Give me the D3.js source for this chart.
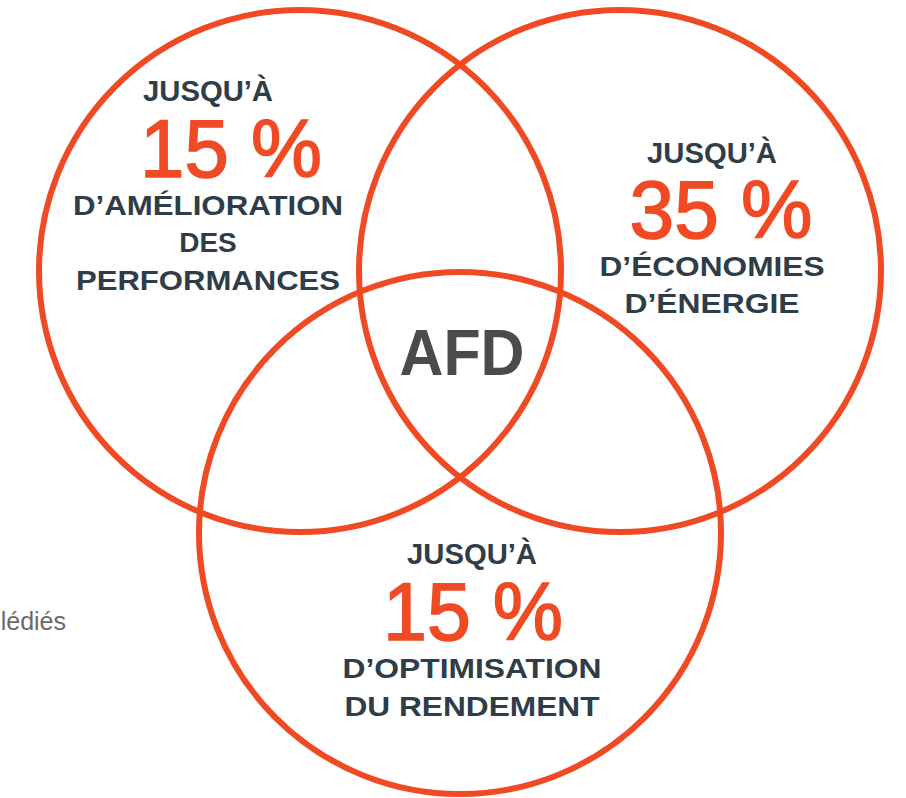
<!DOCTYPE html>
<html>
<head>
<meta charset="utf-8">
<script src="https://cdn.jsdelivr.net/npm/d3@7"></script>
<style>
  html, body { margin: 0; padding: 0; background: #ffffff; }
  svg { display: block; }
</style>
</head>
<body>
<div id="chart"></div>
<script>
// ---- data ----
const sets = ["Performances", "Énergie", "Rendement"];
const prefixes = ["JUSQU’À", "JUSQU’À", "JUSQU’À"];
const values = [15, 35, 15];
const captions = [
  ["D’AMÉLIORATION", "DES", "PERFORMANCES"],
  ["D’ÉCONOMIES", "D’ÉNERGIE"],
  ["D’OPTIMISATION", "DU RENDEMENT"]
];
const centerLabel = "AFD";
const sideText = "lédiés";

// ---- layout ----
const W = 906, H = 798;
const orange = "#f04a24", dark = "#2e3d47", grey = "#4b4b4d";
const R = 261;
const circleLayout = [
  { cx: 300, cy: 271 },
  { cx: 620, cy: 271 },
  { cx: 460, cy: 533 }
];
// text placement per set: x centre, baselines, widths
const textLayout = [
  { x: 208, pctX: 231, yPre: 101, yPct: 177, yCap: [215, 252, 290], wPre: 130, wPct: 182, wCap: [270, null, 264] },
  { x: 712, pctX: 721, yPre: 163, yPct: 238, yCap: [276, 313], wPre: 130, wPct: 183, wCap: [225, 175] },
  { x: 472, pctX: 473, yPre: 564, yPct: 640, yCap: [678, 716], wPre: 130, wPct: 180, wCap: [259, 255] }
];

const svg = d3.select("#chart").append("svg")
  .attr("width", W).attr("height", H);

const font = "'Liberation Sans', Arial, Helvetica, sans-serif";

// side text (clipped page text)
svg.append("text")
  .attr("x", 66).attr("y", 630)
  .attr("text-anchor", "end")
  .attr("font-family", font)
  .attr("font-size", 25)
  .attr("fill", "#6a6a6a")
  .text(sideText);

// circles
svg.selectAll("circle.set")
  .data(sets)
  .join("circle")
  .attr("class", "set")
  .attr("cx", (d, i) => circleLayout[i].cx)
  .attr("cy", (d, i) => circleLayout[i].cy)
  .attr("r", R)
  .attr("fill", "none")
  .attr("stroke", orange)
  .attr("stroke-width", 6);

const fmt = v => v + " %";

const groups = svg.selectAll("g.label")
  .data(sets)
  .join("g")
  .attr("class", "label");

groups.each(function(d, i) {
  const g = d3.select(this);
  const L = textLayout[i];
  g.append("text")
    .attr("x", L.x).attr("y", L.yPre)
    .attr("text-anchor", "middle")
    .attr("font-family", font).attr("font-weight", "bold")
    .attr("font-size", 29).attr("fill", dark)
    .attr("textLength", L.wPre).attr("lengthAdjust", "spacingAndGlyphs")
    .text(prefixes[i]);
  g.append("text")
    .attr("x", L.pctX).attr("y", L.yPct)
    .attr("text-anchor", "middle")
    .attr("font-family", font)
    .attr("font-size", 81).attr("fill", orange)
    .attr("stroke", orange).attr("stroke-width", 1.6)
    .attr("textLength", L.wPct).attr("lengthAdjust", "spacingAndGlyphs")
    .text(fmt(values[i]));
  captions[i].forEach((c, j) => {
    const t = g.append("text")
      .attr("x", L.x).attr("y", L.yCap[j])
      .attr("text-anchor", "middle")
      .attr("font-family", font).attr("font-weight", "bold")
      .attr("font-size", 28).attr("fill", dark)
      .text(c);
    if (L.wCap[j]) t.attr("textLength", L.wCap[j]).attr("lengthAdjust", "spacingAndGlyphs");
  });
});

svg.append("text")
  .attr("x", 462).attr("y", 375)
  .attr("text-anchor", "middle")
  .attr("font-family", font).attr("font-weight", "bold")
  .attr("font-size", 65).attr("fill", grey)
  .attr("textLength", 125).attr("lengthAdjust", "spacingAndGlyphs")
  .text(centerLabel);
</script>
</body>
</html>
